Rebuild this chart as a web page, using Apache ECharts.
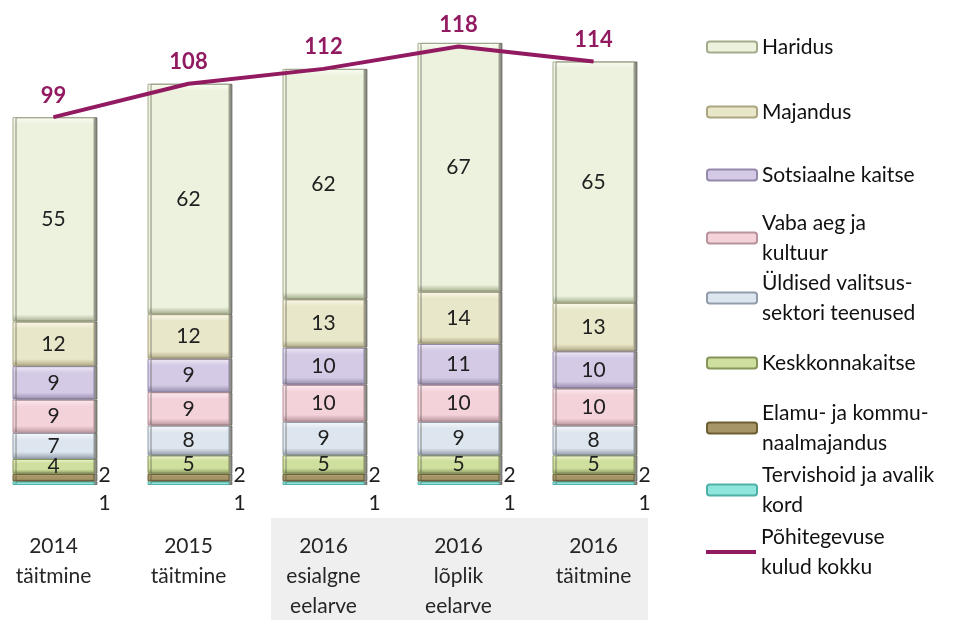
<!DOCTYPE html>
<html>
<head>
<meta charset="utf-8">
<script src="https://cdn.jsdelivr.net/npm/echarts@6/dist/echarts.min.js"></script>
<style>
  html, body { margin: 0; padding: 0; background: #fff; }
  #chart { width: 961px; height: 620px; }
</style>
</head>
<body>
<div id="chart"></div>
<script>
  var categories = ['2014\ntäitmine', '2015\ntäitmine', '2016\nesialgne\neelarve', '2016\nlõplik\neelarve', '2016\ntäitmine']
  var tervishoid = [1, 1, 1, 1, 1]
  var elamu = [2, 2, 2, 2, 2]
  var keskkonnakaitse = [4, 5, 5, 5, 5]
  var uldised = [7, 8, 9, 9, 8]
  var vabaAeg = [9, 9, 10, 10, 10]
  var sotsiaalne = [9, 9, 10, 11, 10]
  var majandus = [12, 12, 13, 14, 13]
  var haridus = [55, 62, 62, 67, 65]
  var kokku = [99, 108, 112, 118, 114]

  var font = 'Lato, "Noto Sans", sans-serif'
  var pxPerUnit = 3.72

  // bevel-ish fill per segment: light top band, dark bottom band (~7px each)
  function bevel (v, base, light, dark) {
    var f = Math.min(0.3, 7 / (v * pxPerUnit))
    return new echarts.graphic.LinearGradient(0, 0, 0, 1, [
      {offset: 0, color: light},
      {offset: f, color: base},
      {offset: 1 - f, color: base},
      {offset: 1, color: dark}
    ])
  }

  function barSeries (name, data, base, light, dark, label) {
    return {
      name: name,
      type: 'bar',
      stack: 'kulud',
      barWidth: 82,
      data: data.map(function (v) {
        return {value: v, itemStyle: {color: bevel(v, base, light, dark)}}
      }),
      itemStyle: {
        color: base,
        borderColor: dark,
        borderWidth: 1,
        // dark right edge of the bevel
        shadowColor: 'rgba(70, 70, 60, 0.6)',
        shadowOffsetX: 3,
        shadowBlur: 0
      },
      label: Object.assign({
        show: true,
        position: 'inside',
        color: '#1f1f1f',
        fontSize: 21,
        fontFamily: font
      }, label || {})
    }
  }

  var series = [
    barSeries('Tervishoid ja avalik kord', tervishoid, '#8fe6dc', '#c8f6f0', '#4fb0a8',
      {position: 'right', distance: 4, offset: [0, 20]}),
    barSeries('Elamu- ja kommu-naalmajandus', elamu, '#a69566', '#c9bb8f', '#6c5e34',
      {position: 'right', distance: 4, offset: [0, -2]}),
    barSeries('Keskkonnakaitse', keskkonnakaitse, '#cfdf9e', '#eef6cf', '#86955a'),
    barSeries('Üldised valitsus-sektori teenused', uldised, '#dde5ee', '#f7f9fc', '#929dab'),
    barSeries('Vaba aeg ja kultuur', vabaAeg, '#f4d2da', '#fcecf0', '#b8939b'),
    barSeries('Sotsiaalne kaitse', sotsiaalne, '#d4cae5', '#efeaf7', '#948aab'),
    barSeries('Majandus', majandus, '#e9e7c9', '#fbfaec', '#aca683'),
    barSeries('Haridus', haridus, '#ecf2dd', '#fbfdf4', '#a3ac8d'),
    {
      name: 'Põhitegevuse kulud kokku',
      type: 'line',
      data: kokku,
      symbol: 'circle',
      symbolSize: 1,
      z: 5,
      lineStyle: {color: '#921a60', width: 4},
      itemStyle: {color: '#921a60'},
      label: {
        show: true,
        position: 'top',
        distance: 10,
        color: '#921a60',
        fontSize: 22,
        fontWeight: 'bold',
        fontFamily: font
      }
    }
  ]

  // legend rows: name, icon centre y, number of text lines
  var legendRows = [
    ['Haridus', 47, 1],
    ['Majandus', 112, 1],
    ['Sotsiaalne kaitse', 175, 1],
    ['Vaba aeg ja kultuur', 238, 2],
    ['Üldised valitsus-sektori teenused', 298, 2],
    ['Keskkonnakaitse', 363, 1],
    ['Elamu- ja kommu-naalmajandus', 428, 2],
    ['Tervishoid ja avalik kord', 490, 2],
    ['Põhitegevuse kulud kokku', 552, 2]
  ]
  var legendText = {
    'Vaba aeg ja kultuur': 'Vaba aeg ja\nkultuur',
    'Üldised valitsus-sektori teenused': 'Üldised valitsus-\nsektori teenused',
    'Elamu- ja kommu-naalmajandus': 'Elamu- ja kommu-\nnaalmajandus',
    'Tervishoid ja avalik kord': 'Tervishoid ja avalik\nkord',
    'Põhitegevuse kulud kokku': 'Põhitegevuse\nkulud kokku'
  }
  var legends = legendRows.map(function (row) {
    var two = row[2] === 2
    var isLine = row[0] === 'Põhitegevuse kulud kokku'
    return {
      data: [row[0]],
      orient: 'vertical',
      left: 706,
      top: two ? row[1] - 45 : row[1] - 15,
      padding: 0,
      itemWidth: 50,
      itemHeight: isLine ? 4 : 11,
      icon: isLine ? 'rect' : undefined,
      selectedMode: false,
      formatter: function (name) { return legendText[name] || name },
      textStyle: {
        color: '#111',
        fontSize: 21,
        fontFamily: font,
        lineHeight: 30,
        padding: two ? [30, 0, 0, 0] : 0
      }
    }
  })

  var chart = echarts.init(document.getElementById('chart'))
  chart.setOption({
    animation: false,
    backgroundColor: '#fff',
    graphic: [{
      type: 'rect',
      z: -10,
      shape: {x: 271, y: 518, width: 377, height: 102},
      style: {fill: '#efefef'}
    }],
    legend: legends,
    grid: {left: -14, width: 675, top: 2, bottom: 135, containLabel: false, outerBoundsMode: 'none'},
    xAxis: {
      type: 'category',
      data: categories,
      axisLine: {show: false},
      axisTick: {show: false},
      axisLabel: {
        interval: 0,
        margin: 46,
        color: '#262626',
        fontSize: 21,
        lineHeight: 30,
        fontFamily: font
      }
    },
    yAxis: {
      type: 'value',
      min: 0,
      max: 130,
      show: false,
      splitLine: {show: false}
    },
    series: series
  })
</script>
</body>
</html>
